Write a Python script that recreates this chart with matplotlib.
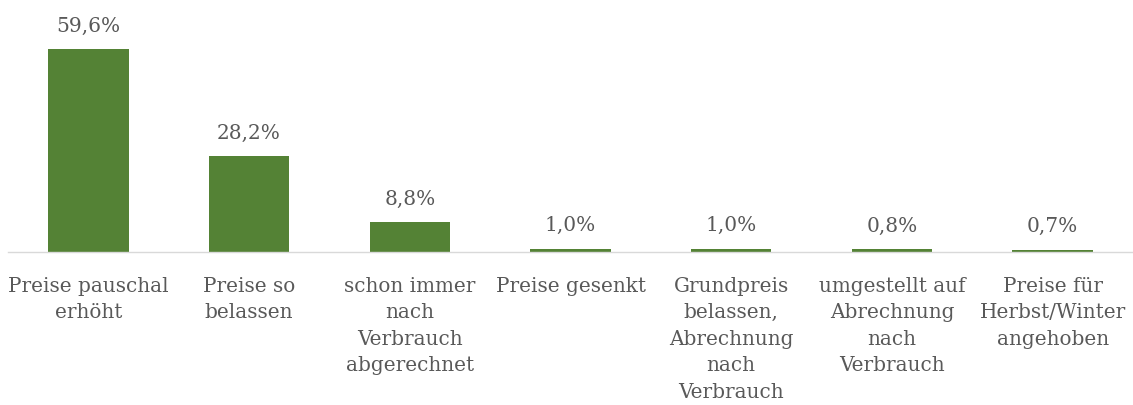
import matplotlib.pyplot as plt

categories = ['Preise pauschal\nerhöht', 'Preise so\nbelassen', 'schon immer\nnach\nVerbrauch\nabgerechnet',
              'Preise gesenkt', 'Grundpreis\nbelassen,\nAbrechnung\nnach\nVerbrauch',
              'umgestellt auf\nAbrechnung\nnach\nVerbrauch', 'Preise für\nHerbst/Winter\nangehoben']
values = [59.6, 28.2, 8.8, 1.0, 1.0, 0.8, 0.7]
value_labels = ['59,6%', '28,2%', '8,8%', '1,0%', '1,0%', '0,8%', '0,7%']

plt.rcParams['font.family'] = ['DejaVu Serif']
txt = '#595959'

fig = plt.figure(figsize=(11.33, 4.06), dpi=100)
ax = fig.add_axes([8/1133, 153/406, 1125/1133, 221/406])

x = range(len(categories))
ax.bar(x, values, width=0.5, color='#548235')
for i, v in enumerate(values):
    ax.text(i, v + 4.3, value_labels[i], ha='center', va='bottom', fontsize=14.5, color=txt)

ax.set_xlim(-0.5, len(categories) - 0.5)
ax.set_ylim(0, 65)
ax.set_xticks(list(x))
ax.set_xticklabels(categories, fontsize=14.4, color=txt, linespacing=1.5)
ax.tick_params(axis='x', length=0, pad=17)
ax.set_yticks([])
for s in ['top', 'right', 'left']:
    ax.spines[s].set_visible(False)
ax.spines['bottom'].set_color('#d9d9d9')
ax.spines['bottom'].set_linewidth(1)

fig.savefig('out.png', dpi=100)
